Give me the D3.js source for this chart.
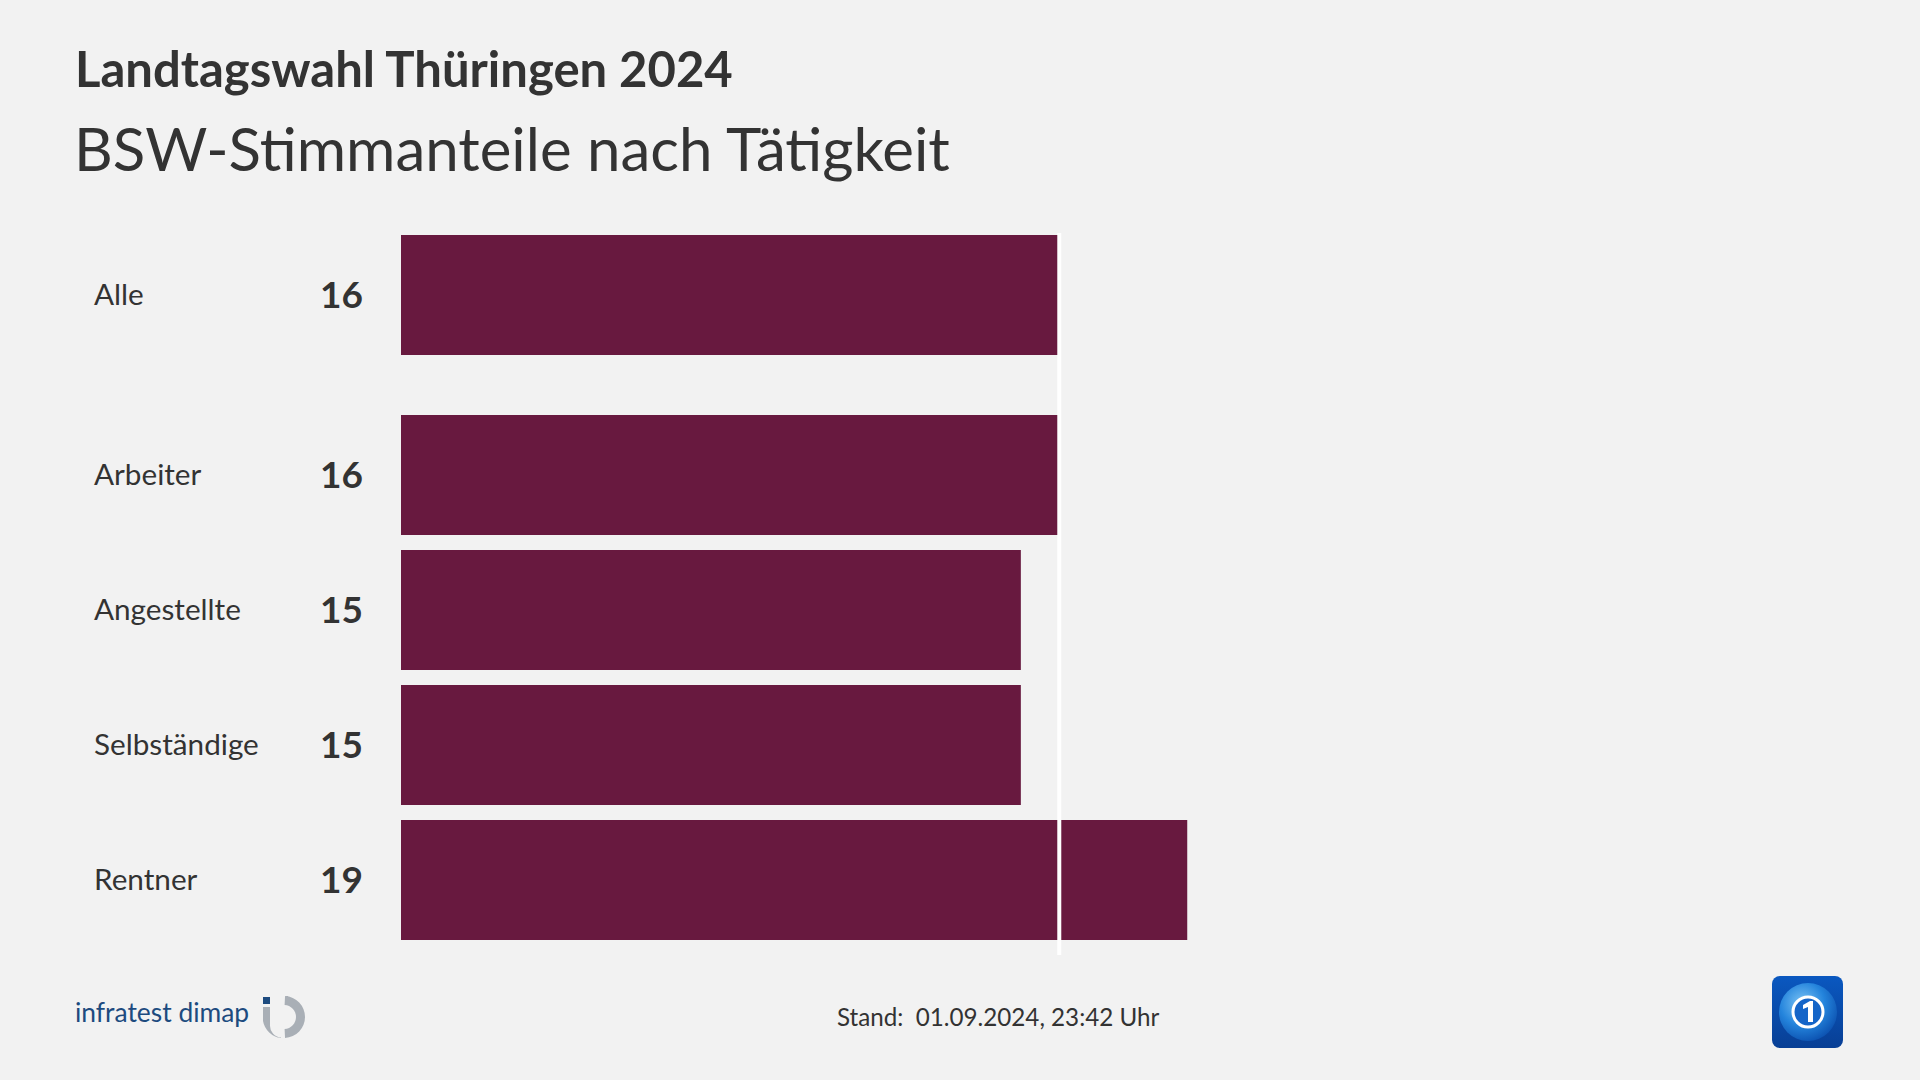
<!DOCTYPE html>
<html><head><meta charset="utf-8">
<script src="https://cdn.jsdelivr.net/npm/d3@7"></script>
<style>
html,body{margin:0;padding:0;background:#f2f2f2;}
svg{display:block;}
text{font-family:Lato,"Noto Sans",sans-serif;}
</style></head>
<body>
<script>
const categories = ["Alle", "Arbeiter", "Angestellte", "Selbständige", "Rentner"];
const values = [15.8, 15.8, 14.9, 14.9, 18.9];
const referenceValue = 15.8;
const titleText = "Landtagswahl Thüringen 2024";
const subtitleText = "BSW-Stimmanteile nach Tätigkeit";
const footerText = "Stand:  01.09.2024, 23:42 Uhr";

const W = 1920, H = 1080;
const svg = d3.select("body").append("svg").attr("width", W).attr("height", H);
svg.append("rect").attr("width", W).attr("height", H).attr("fill", "#f2f2f2");

const txt = "#333333";
const barColor = "#68193f";

svg.append("text").attr("x", 75).attr("y", 87).attr("font-size", 49).attr("font-weight", 700)
  .attr("fill", txt).text(titleText);
svg.append("text").attr("x", 74).attr("y", 171).attr("font-size", 60).attr("font-weight", 400)
  .attr("fill", txt).text(subtitleText);

const x = d3.scaleLinear().domain([0, 36]).range([401, 401 + 36 * 41.6]);
const y = d3.scaleBand().domain(categories).range([235, 235 + 660]).paddingInner(15 / 135).paddingOuter(0);
const groupOffset = (c) => c === "Alle" ? 0 : 45;
const yPos = (c) => y(c) + groupOffset(c);

const data = categories.map((c, i) => ({ c, v: values[i] }));
const fmt = d3.format(".0f");

const g = svg.append("g");
g.selectAll("rect.bar").data(data).join("rect").attr("class", "bar")
  .attr("x", x(0)).attr("y", d => yPos(d.c))
  .attr("width", d => x(d.v) - x(0)).attr("height", y.bandwidth())
  .attr("fill", barColor);

g.selectAll("text.cat").data(data).join("text").attr("class", "cat")
  .attr("x", 94).attr("y", d => yPos(d.c) + y.bandwidth() / 2 + 10)
  .attr("font-size", 29.7).attr("fill", txt).text(d => d.c);

g.selectAll("text.val").data(data).join("text").attr("class", "val")
  .attr("x", 363).attr("y", d => yPos(d.c) + y.bandwidth() / 2 + 13)
  .attr("text-anchor", "end").attr("font-size", 37).attr("font-weight", 700)
  .attr("fill", txt).text(d => fmt(d.v));

// reference line
const yTop = yPos(categories[0]) - 2;
const yBot = yPos(categories[categories.length - 1]) + y.bandwidth() + 15;
svg.append("line").attr("x1", x(referenceValue) + 1).attr("x2", x(referenceValue) + 1)
  .attr("y1", yTop).attr("y2", yBot).attr("stroke", "#ffffff").attr("stroke-width", 4);

// footer
svg.append("text").attr("x", 837).attr("y", 1026).attr("font-size", 24.2).attr("fill", txt)
  .attr("xml:space", "preserve").style("white-space", "pre").text(footerText);

// infratest dimap logo
svg.append("text").attr("x", 75).attr("y", 1022).attr("font-size", 26.4).attr("fill", "#1d4b7f")
  .text("infratest dimap");
const lg = svg.append("g").attr("transform", "translate(284,1017)");
lg.append("rect").attr("x", -21).attr("y", -20).attr("width", 7).attr("height", 7).attr("fill", "#1d4b7f");
lg.append("path").attr("fill", "#a9afb6")
  .attr("d", d3.arc().innerRadius(12).outerRadius(21).startAngle(0.05).endAngle(Math.PI - 0.05)());
lg.append("path").attr("fill", "#a9afb6")
  .attr("d", "M-21,-10 L-14,-10 L-14,8 A12,12 0 0 0 -3,20.6 L-3,21 A21,21 0 0 1 -21,4 Z");
lg.append("path").attr("fill", "#a9afb6")
  .attr("d", "M2,-21 L2,-12 A12,12 0 0 1 4,-12 L4,-21 Z");

// tagesschau logo
const defs = svg.append("defs");
const lin = defs.append("linearGradient").attr("id", "tsbg").attr("x1", 0).attr("y1", 0).attr("x2", 0).attr("y2", 1);
lin.append("stop").attr("offset", 0).attr("stop-color", "#0a58c0");
lin.append("stop").attr("offset", 1).attr("stop-color", "#083f95");
const rad = defs.append("radialGradient").attr("id", "tsglobe").attr("cx", 0.4).attr("cy", 0.35).attr("r", 0.7);
rad.append("stop").attr("offset", 0).attr("stop-color", "#7cc4f5");
rad.append("stop").attr("offset", 0.55).attr("stop-color", "#2484dc");
rad.append("stop").attr("offset", 1).attr("stop-color", "#0b4fae");
const tg = svg.append("g").attr("transform", "translate(1772,976)");
tg.append("rect").attr("width", 71).attr("height", 72).attr("rx", 8).attr("fill", "url(#tsbg)");
tg.append("circle").attr("cx", 36).attr("cy", 36).attr("r", 29).attr("fill", "url(#tsglobe)");
tg.append("circle").attr("cx", 36).attr("cy", 36).attr("r", 15).attr("fill", "#1565c8").attr("stroke", "#ffffff").attr("stroke-width", 3);
tg.append("path").attr("fill", "#ffffff").attr("d", "M31,29 L38,25 L41,25 L41,46 L36,46 L36,31 L31,33 Z");
</script>
</body></html>
